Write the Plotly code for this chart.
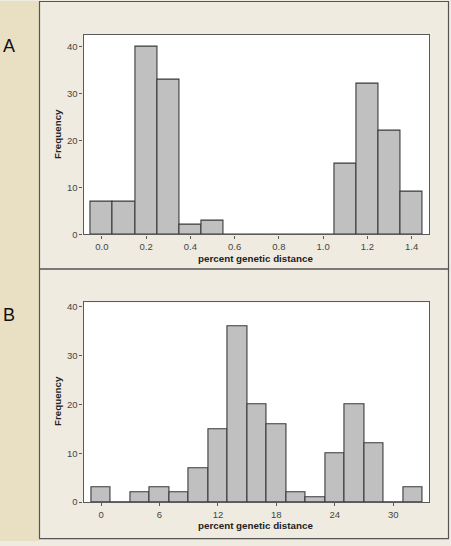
import plotly.graph_objects as go

W, H = 451, 546

# ---- data ----
a_bins = [0.0, 0.1, 0.2, 0.3, 0.4, 0.5, 0.6, 0.7, 0.8, 0.9, 1.0, 1.1, 1.2, 1.3, 1.4]
a_counts = [7, 7, 40, 33, 2, 3, 0, 0, 0, 0, 0, 15, 32, 22, 9]
a_ticks = [0.0, 0.2, 0.4, 0.6, 0.8, 1.0, 1.2, 1.4]
a_ticklabels = ["0.0", "0.2", "0.4", "0.6", "0.8", "1.0", "1.2", "1.4"]

b_bins = [0, 2, 4, 6, 8, 10, 12, 14, 16, 18, 20, 22, 24, 26, 28, 30, 32]
b_counts = [3, 0, 2, 3, 2, 7, 15, 36, 20, 16, 2, 1, 10, 20, 12, 0, 3]
b_ticks = [0, 6, 12, 18, 24, 30]
b_ticklabels = ["0", "6", "12", "18", "24", "30"]

y_ticks = [0, 10, 20, 30, 40]
x_title = "percent genetic distance"
y_title = "Frequency"
panel_labels = ["A", "B"]

# ---- styling ----
FONT = "Liberation Sans"
BAR_FILL = "#c0c0c0"
BAR_LINE = "#3a3a3a"
AXIS_COL = "#5a5a5a"
TICK_FONT = dict(family=FONT, size=9.5, color="#454545")
PANEL_BG = "#efebe0"
STRIP_BG = "#e9e0c4"


def px_x(x):
    return x / W


def px_y(y):
    return 1 - y / H


fig = go.Figure()

fig.add_trace(go.Bar(x=a_bins, y=a_counts, width=0.1, xaxis="x", yaxis="y",
                     marker=dict(color=BAR_FILL, line=dict(color=BAR_LINE, width=1.1)),
                     hoverinfo="skip", showlegend=False))
fig.add_trace(go.Bar(x=b_bins, y=b_counts, width=2, xaxis="x2", yaxis="y2",
                     marker=dict(color=BAR_FILL, line=dict(color=BAR_LINE, width=1.1)),
                     hoverinfo="skip", showlegend=False))

xdom = [px_x(83.5), px_x(429.3)]
common_axis = dict(showline=True, linecolor=AXIS_COL, linewidth=1.2, mirror=True,
                   ticks="outside", ticklen=3, tickcolor=AXIS_COL, tickwidth=1,
                   showgrid=False, zeroline=False, tickfont=TICK_FONT, fixedrange=True)

fig.update_layout(
    width=W, height=H,
    margin=dict(l=0, r=0, t=0, b=0),
    paper_bgcolor=PANEL_BG,
    plot_bgcolor="white",
    bargap=0,
    xaxis=dict(domain=xdom, range=[-0.083, 1.48], anchor="y",
               tickvals=a_ticks, ticktext=a_ticklabels, **common_axis),
    yaxis=dict(domain=[px_y(236), px_y(34)], range=[0, 42.5], anchor="x",
               tickvals=y_ticks, **common_axis),
    xaxis2=dict(domain=xdom, range=[-1.8, 33.7], anchor="y2",
                tickvals=b_ticks, ticktext=b_ticklabels, **common_axis),
    yaxis2=dict(domain=[px_y(506.7), px_y(304.7)], range=[0, 40.9], anchor="x2",
                tickvals=y_ticks, **common_axis),
)

shapes = []
# left strip
shapes.append(dict(type="rect", xref="paper", yref="paper", layer="below",
                   x0=0, x1=px_x(39.5), y0=0, y1=1,
                   fillcolor=STRIP_BG, line=dict(width=0)))
# panel frames
for (top, bot) in [(0.5, 271), (271, 543.5)]:
    shapes.append(dict(type="rect", xref="paper", yref="paper", layer="below",
                       x0=px_x(39.5), x1=px_x(448.5), y0=px_y(bot), y1=px_y(top),
                       fillcolor="rgba(0,0,0,0)", line=dict(color="#555555", width=1.2)))
fig.update_layout(shapes=shapes)

annotations = []
for lab, yc in zip(panel_labels, [45, 317]):
    annotations.append(dict(text=lab, xref="paper", yref="paper", x=px_x(1), y=px_y(yc),
                            xanchor="left", yanchor="middle", showarrow=False,
                            font=dict(family=FONT, size=18, color="#111111")))
for xt_y, yt_y in [(260, 135), (530.5, 405)]:
    annotations.append(dict(text="<b>" + x_title + "</b>", xref="paper", yref="paper",
                            x=px_x(255), y=px_y(xt_y), xanchor="center", yanchor="middle",
                            showarrow=False, font=dict(family=FONT, size=9.8, color="#222222")))
    annotations.append(dict(text="<b>" + y_title + "</b>", xref="paper", yref="paper",
                            x=px_x(57.5), y=px_y(yt_y), xanchor="center", yanchor="middle",
                            textangle=-90, showarrow=False,
                            font=dict(family=FONT, size=9.8, color="#222222")))
fig.update_layout(annotations=annotations)

fig.write_html(
    "out.html",
    config={"displayModeBar": False},
    post_script="document.body.style.margin='0';document.body.style.padding='0';"
                "document.documentElement.style.overflow='hidden';",
)
